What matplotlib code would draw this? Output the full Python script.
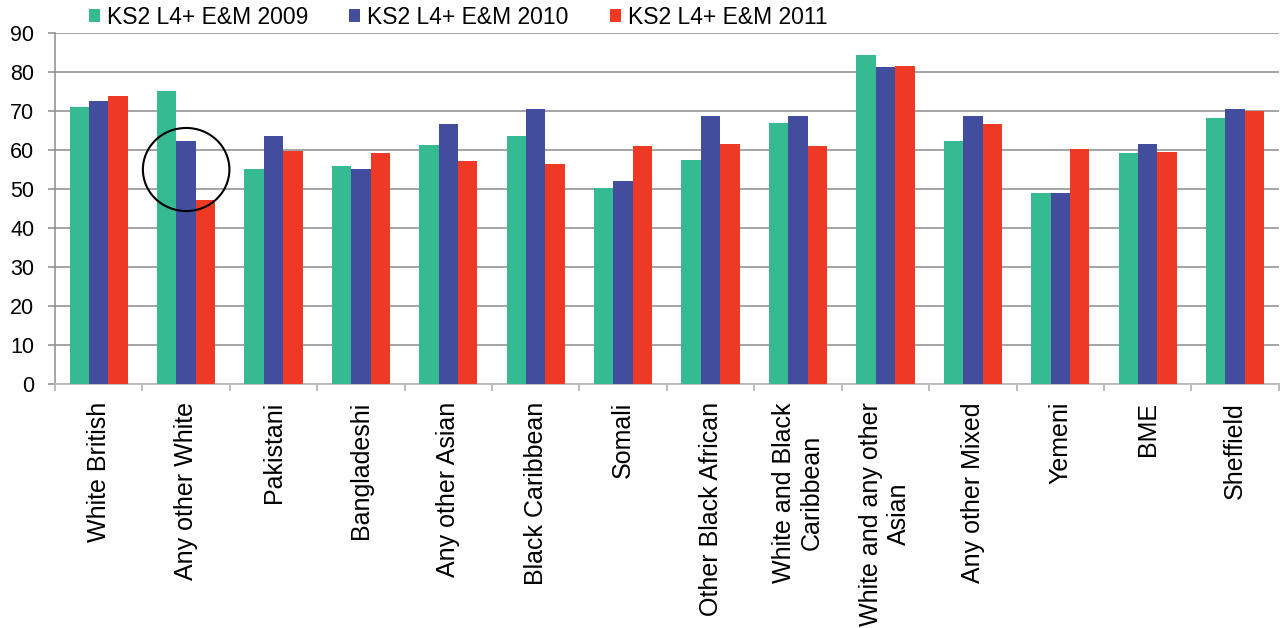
import matplotlib
matplotlib.use("Agg")
import matplotlib.pyplot as plt
from matplotlib.patches import Ellipse
import numpy as np

plt.rcParams["font.family"] = ["Liberation Sans", "DejaVu Sans"]

categories = ["White British", "Any other White", "Pakistani", "Bangladeshi",
              "Any other Asian", "Black Caribbean", "Somali", "Other Black African",
              "White and Black\nCaribbean", "White and any other\nAsian",
              "Any other Mixed", "Yemeni", "BME", "Sheffield"]
series_names = ["KS2 L4+ E&M 2009", "KS2 L4+ E&M 2010", "KS2 L4+ E&M 2011"]
v2009 = [70.9, 75.0, 55.0, 56.0, 61.4, 63.6, 50.3, 57.5, 66.9, 84.4, 62.2, 49.1, 59.1, 68.2]
v2010 = [72.5, 62.4, 63.6, 55.0, 66.7, 70.5, 52.1, 68.7, 68.7, 81.4, 68.7, 49.1, 61.5, 70.5]
v2011 = [73.8, 47.3, 59.8, 59.1, 57.3, 56.4, 60.9, 61.5, 60.9, 81.6, 66.7, 60.3, 59.6, 70.0]
colors = ["#35BA92", "#434D9E", "#EE3A25"]

fig = plt.figure(figsize=(12.8, 6.28), dpi=100)
ax = fig.add_axes([0.043, 0.3885, 0.956, 0.559])

x = np.arange(len(categories))
w = 0.222
for i, vals in enumerate([v2009, v2010, v2011]):
    ax.bar(x + (i - 1) * w, vals, width=w, color=colors[i], label=series_names[i], zorder=3)

ax.set_xlim(-0.5, len(categories) - 0.5)
ax.set_ylim(0, 90)
ax.set_yticks(range(0, 91, 10))
ax.yaxis.grid(True, color="#8c8c8c", linewidth=1.1, zorder=0)
ax.tick_params(axis="y", labelsize=15.5, length=5, color="#8c8c8c", width=1.1, pad=10)

# category labels centred, ticks at category boundaries
ax.set_xticks(x)
ax.set_xticklabels(categories, rotation=90, fontsize=18, va="top", ha="center",
                   multialignment="center")
ax.tick_params(axis="x", which="major", length=0, pad=13)
ax.set_xticks(np.arange(-0.5, len(categories), 1), minor=True)
ax.tick_params(axis="x", which="minor", length=5, color="#aaaaaa", width=1.1)

for s in ["top", "right"]:
    ax.spines[s].set_visible(False)
ax.spines["left"].set_color("#8c8c8c")
ax.spines["bottom"].set_color("#bbbbbb")
ax.spines["left"].set_linewidth(1.1)
ax.spines["bottom"].set_linewidth(1.3)

# circle highlighting "Any other White"
ax.add_patch(Ellipse((1, 55), 0.99, 21.3, fill=False, edgecolor="black",
                     linewidth=1.5, zorder=5))

fig.legend(loc="upper left", bbox_to_anchor=(0.0695, 0.991), ncol=3, frameon=False,
           fontsize=16.5, handlelength=0.48, handleheight=0.48, handletextpad=0.3,
           columnspacing=1.8, borderpad=0, borderaxespad=0)

fig.savefig("out.png", dpi=100)
